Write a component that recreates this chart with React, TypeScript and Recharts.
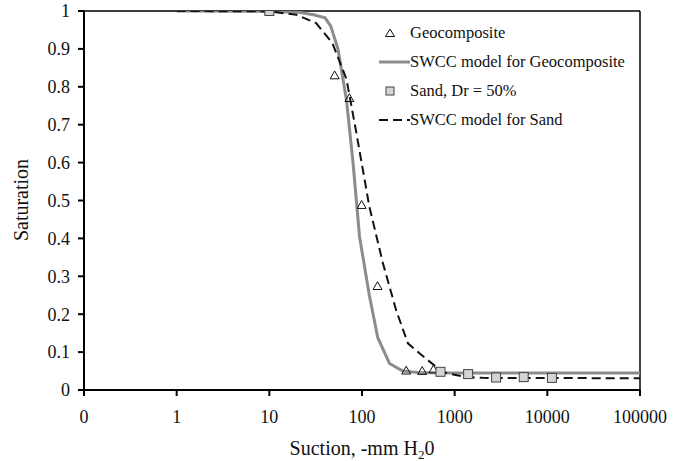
import React from "react";
import {
  ComposedChart,
  Line,
  Scatter,
  XAxis,
  YAxis,
  ReferenceLine,
} from "recharts";

const FONT = "'Liberation Serif', 'Times New Roman', serif";

const xTicks = [0.1, 1, 10, 100, 1000, 10000, 100000];
const yTicks = [0, 0.1, 0.2, 0.3, 0.4, 0.5, 0.6, 0.7, 0.8, 0.9, 1];

const geoSuction = [50.7, 73, 99, 147, 300, 446, 590];
const geoSaturation = [0.83, 0.77, 0.488, 0.274, 0.051, 0.05, 0.054];

const sandSuction = [10, 703, 1397, 2800, 5560, 11200];
const sandSaturation = [1, 0.048, 0.042, 0.033, 0.034, 0.032];

const geoModelSuction = [1, 10, 20, 30, 40, 46, 55, 68, 80, 94, 120, 148, 198, 276, 400, 1000, 100000];
const geoModelSaturation = [1, 0.999, 0.997, 0.99, 0.982, 0.96, 0.9, 0.765, 0.6, 0.405, 0.25, 0.138, 0.07, 0.05, 0.046, 0.045, 0.045];

const sandModelSuction = [1, 10, 19.7, 32, 48, 68, 87, 120, 168, 234, 313, 417, 630, 810, 1320, 2000, 100000];
const sandModelSaturation = [1, 0.999, 0.99, 0.968, 0.915, 0.82, 0.678, 0.484, 0.335, 0.21, 0.123, 0.097, 0.061, 0.045, 0.034, 0.032, 0.031];

const legendLabels = ["Geocomposite", "SWCC model for Geocomposite", "Sand, Dr = 50%", "SWCC model for Sand"];

const zip = (xs: number[], ys: number[]) => xs.map((x, i) => ({ x, y: ys[i] }));

const geoData = zip(geoSuction, geoSaturation);
const sandData = zip(sandSuction, sandSaturation);
const geoModel = zip(geoModelSuction, geoModelSaturation);
const sandModel = zip(sandModelSuction, sandModelSaturation);

const Triangle = (props: any) => {
  const { cx, cy } = props;
  if (cx == null || cy == null) return null;
  const s = 4.5;
  return (
    <polygon
      points={`${cx},${cy - s} ${cx - s},${cy + s * 0.75} ${cx + s},${cy + s * 0.75}`}
      fill="#ffffff"
      fillOpacity={0}
      stroke="#111"
      strokeWidth={1}
    />
  );
};

const Square = (props: any) => {
  const { cx, cy } = props;
  if (cx == null || cy == null) return null;
  const s = 4.5;
  return (
    <rect x={cx - s} y={cy - s} width={2 * s} height={2 * s} fill="#d4d4d4" stroke="#444" strokeWidth={1} />
  );
};

const LegendBox = () => {
  const icons = [
    <polygon points="11,6 6.5,13.5 15.5,13.5" fill="none" stroke="#111" strokeWidth={1} />,
    <line x1={0} y1={10} x2={31} y2={10} stroke="#8c8c8c" strokeWidth={3} />,
    <rect x={7} y={6} width={8} height={8} fill="#d4d4d4" stroke="#444" strokeWidth={1} />,
    <line x1={0} y1={10} x2={31} y2={10} stroke="#111" strokeWidth={2} strokeDasharray="9 5" />,
  ];
  return (
    <div style={{ position: "absolute", left: 379, top: 18, pointerEvents: "none" }}>
      {legendLabels.map((text, i) => (
        <div key={text} style={{ display: "flex", alignItems: "center", height: 29 }}>
          <svg width={31} height={20} style={{ display: "block" }}>
            {icons[i]}
          </svg>
          <span style={{ fontFamily: FONT, fontSize: 16.5, color: "#111", whiteSpace: "nowrap" }}>{text}</span>
        </div>
      ))}
    </div>
  );
};

const XLabel = (props: any) => {
  const vb = props.viewBox || {};
  const cx = (vb.x || 0) + (vb.width || 0) / 2;
  return (
    <text x={cx} y={455} textAnchor="middle" fontFamily={FONT} fontSize={20} fill="#111">
      <tspan>Suction, -mm H</tspan>
      <tspan dy={4} fontSize={13}>2</tspan>
      <tspan dy={-4}>0</tspan>
    </text>
  );
};

const YLabel = () => (
  <text
    x={0}
    y={0}
    transform="translate(28,200) rotate(-90)"
    textAnchor="middle"
    fontFamily={FONT}
    fontSize={20}
    fill="#111"
  >
    Saturation
  </text>
);

export default function App() {
  return (
    <div style={{ position: "fixed", left: 0, top: 0, width: 673, height: 461, background: "#fff" }}>
      <ComposedChart width={673} height={461} margin={{ top: 11, right: 33, left: 0, bottom: 0 }}>
        <XAxis
          dataKey="x"
          type="number"
          scale="log"
          domain={[0.1, 100000]}
          ticks={xTicks}
          allowDataOverflow
          tickFormatter={(v: number) => (v < 1 ? "0" : String(v))}
          tick={{ fill: "#111", fontSize: 18, fontFamily: FONT }}
          tickSize={6}
          tickMargin={14}
          axisLine={{ stroke: "#000", strokeWidth: 2 }}
          tickLine={{ stroke: "#000", strokeWidth: 2 }}
          height={71}
          label={<XLabel />}
        />
        <YAxis
          dataKey="y"
          type="number"
          domain={[0, 1]}
          ticks={yTicks}
          allowDataOverflow
          tickFormatter={(v: number) => String(Math.round(v * 10) / 10)}
          tick={{ fill: "#111", fontSize: 18, fontFamily: FONT }}
          tickSize={6}
          tickMargin={8}
          axisLine={{ stroke: "#000", strokeWidth: 2 }}
          tickLine={{ stroke: "#000", strokeWidth: 2 }}
          width={84}
          label={<YLabel />}
        />
        <ReferenceLine y={1} stroke="#000" strokeWidth={1.5} />
        <ReferenceLine x={100000} stroke="#000" strokeWidth={1.5} />
        <Line
          data={geoModel}
          dataKey="y"
          type="linear"
          stroke="#8c8c8c"
          strokeWidth={3}
          dot={false}
          activeDot={false}
          isAnimationActive={false}
          legendType="none"
        />
        <Line
          data={sandModel}
          dataKey="y"
          type="linear"
          stroke="#111"
          strokeWidth={2}
          strokeDasharray="9 5"
          dot={false}
          activeDot={false}
          isAnimationActive={false}
          legendType="none"
        />
        <Scatter data={geoData} dataKey="y" shape={<Triangle />} isAnimationActive={false} legendType="none" />
        <Scatter data={sandData} dataKey="y" shape={<Square />} isAnimationActive={false} legendType="none" />
      </ComposedChart>
      <LegendBox />
    </div>
  );
}
